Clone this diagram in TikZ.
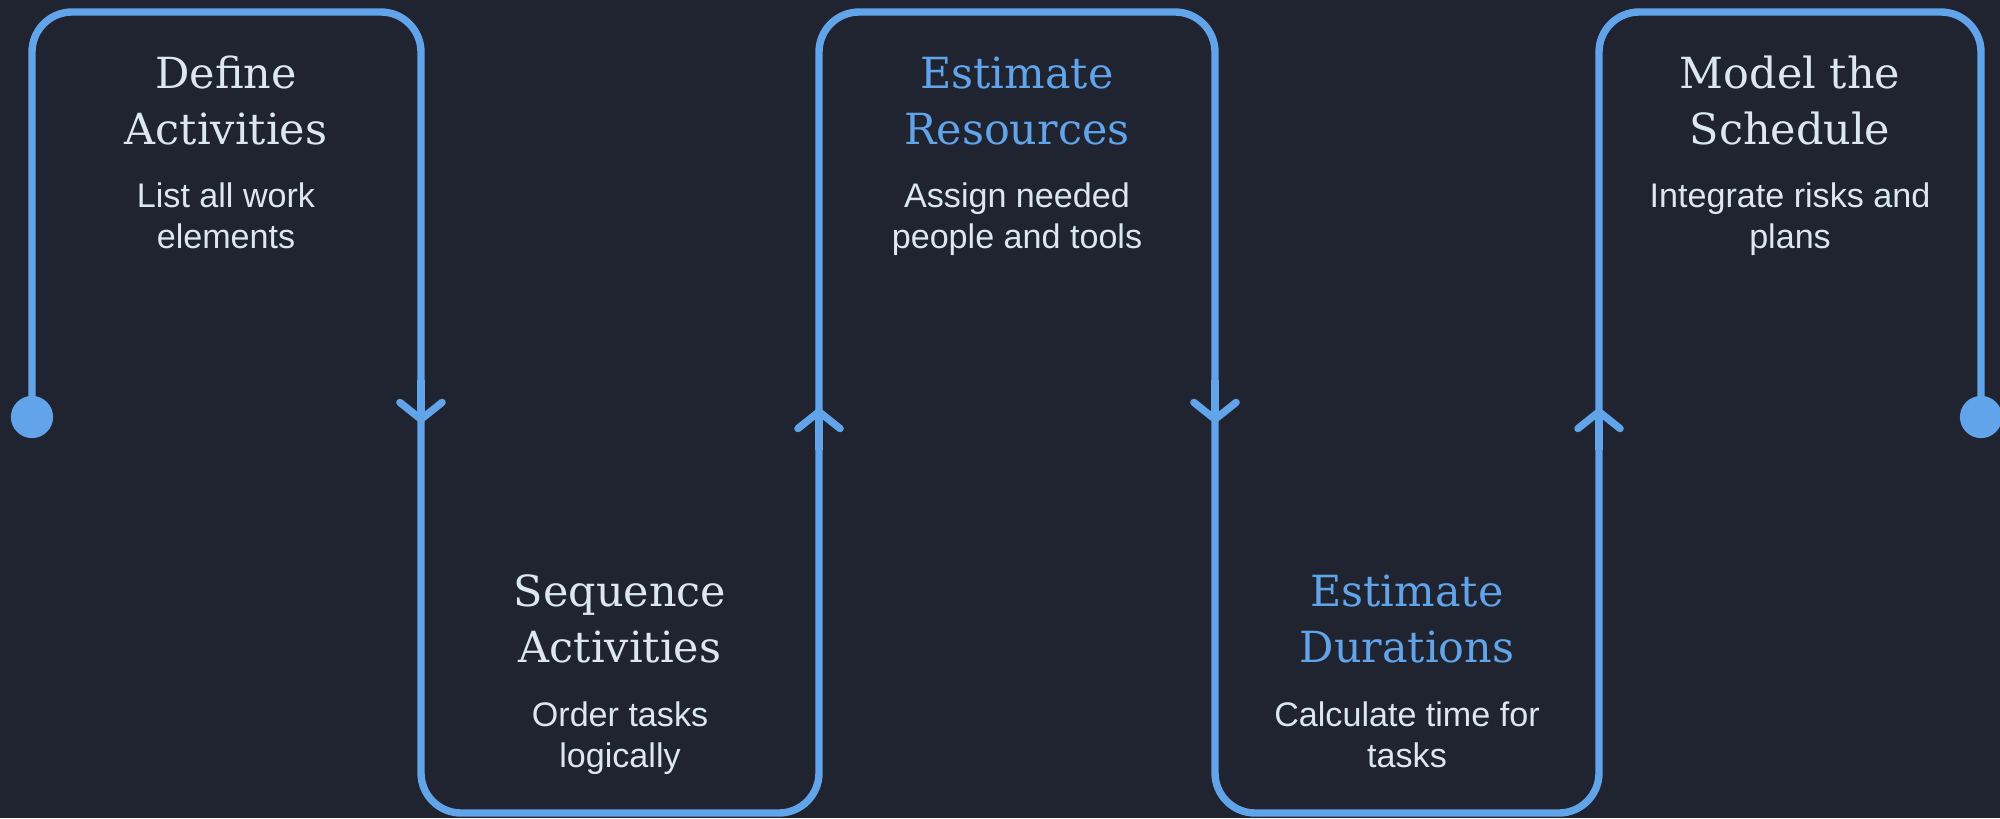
\documentclass[tikz,border=0pt]{standalone}
\usepackage{fontspec}
\setmainfont{DejaVu Serif}
\newfontfamily\bodyfont{Liberation Sans}
\usepackage{xcolor}
\usetikzlibrary{arrows.meta}

\definecolor{bgdark}{HTML}{1F2430}
\definecolor{flowblue}{HTML}{62A4EA}
\definecolor{textlight}{HTML}{DCE7F2}

\begin{document}
\begin{tikzpicture}[
        x=0.01cm, y=-0.01cm,
        flow/.style={draw=flowblue, line width=2.1pt, rounded corners=11.4pt},
        midarrow/.style={flowblue, line width=2.1pt,
                         -{Straight Barb[round, length=4.8pt, width=12pt]}},
        dot/.style={circle, fill=flowblue, minimum size=12pt, inner sep=0pt},
        stagetitle/.style={anchor=base, align=center, inner sep=0pt, text=textlight,
                           font=\fontsize{12.2}{15.65}\selectfont},
        stagenote/.style={anchor=base, align=center, inner sep=0pt, text=textlight,
                          font=\bodyfont\fontsize{9.7}{11.4}\selectfont},
    ]
        \useasboundingbox (0,0) rectangle (2000,818);
        \fill[bgdark] (0,0) rectangle (2000,818);

        % corners of the serpentine line
        \coordinate (t0) at (32,12);
        \coordinate (t1) at (421,12);
        \coordinate (b1) at (421,813);
        \coordinate (b2) at (819,813);
        \coordinate (t2) at (819,12);
        \coordinate (t3) at (1215,12);
        \coordinate (b3) at (1215,813);
        \coordinate (b4) at (1599,813);
        \coordinate (t4) at (1599,12);
        \coordinate (t5) at (1981,12);

        \node[dot] (d0) at (32,417) {};
        \node[dot] (d1) at (1981,417) {};

        \draw[flow] (d0.center) -- (t0) -- (t1) -- (b1) -- (b2) -- (t2) -- (t3)
            -- (b3) -- (b4) -- (t4) -- (t5) -- (d1.center);

        % direction marks half way down/up
        \coordinate (m1) at (421,423);
        \coordinate (m2) at (819,408);
        \coordinate (m3) at (1215,423);
        \coordinate (m4) at (1599,408);
        \draw[midarrow] (421,380) -- (m1);
        \draw[midarrow] (819,450) -- (m2);
        \draw[midarrow] (1215,380) -- (m3);
        \draw[midarrow] (1599,450) -- (m4);

        % stages (base = last line)
        \node[stagetitle] (s1) at (226,144) {Define\\Activities};
        \node[stagenote]  (n1) at (226,248) {List all work\\elements};

        \node[stagetitle] (s2) at (620,662) {Sequence\\Activities};
        \node[stagenote]  (n2) at (620,767) {Order tasks\\logically};

        \node[stagetitle, text=flowblue] (s3) at (1017,144) {Estimate\\Resources};
        \node[stagenote]  (n3) at (1017,248) {Assign needed\\people and tools};

        \node[stagetitle, text=flowblue] (s4) at (1407,662) {Estimate\\Durations};
        \node[stagenote]  (n4) at (1407,767) {Calculate time for\\tasks};

        \node[stagetitle] (s5) at (1790,144) {Model the\\Schedule};
        \node[stagenote]  (n5) at (1790,248) {Integrate risks and\\plans};
    \end{tikzpicture}
\end{document}
